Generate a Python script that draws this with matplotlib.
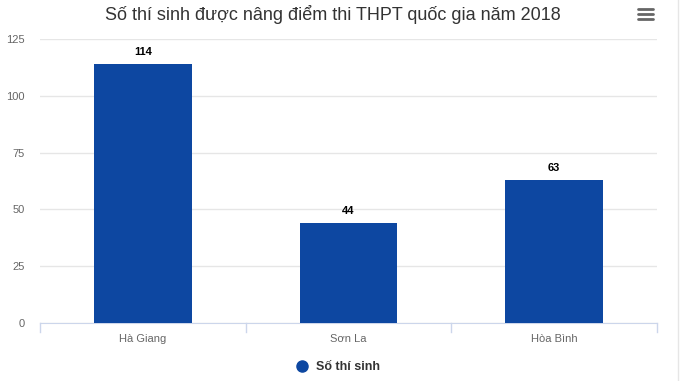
import matplotlib.pyplot as plt
from matplotlib.lines import Line2D

categories = ["Hà Giang", "Sơn La", "Hòa Bình"]
values = [114, 44, 63]
yticks = [0, 25, 50, 75, 100, 125]

plt.rcParams["font.family"] = ["Liberation Sans", "DejaVu Sans"]

fig = plt.figure(figsize=(6.85, 3.81), dpi=100)
ax = fig.add_axes([40 / 685, 1 - 323 / 381, 617 / 685, 284 / 381])

x = list(range(len(categories)))
bars = ax.bar(x, values, width=0.475, color="#0d47a1", zorder=3)
for b, v in zip(bars, values):
    ax.text(b.get_x() + b.get_width() / 2, v + 3, str(v), ha="center", va="bottom",
            fontsize=8, fontweight="bold", color="#000000", zorder=4)

ax.set_xlim(-0.5, len(categories) - 0.5)
ax.set_ylim(0, 125)
ax.set_yticks(yticks)
ax.grid(axis="y", color="#e6e6e6", linewidth=1, zorder=0)
ax.tick_params(axis="y", length=0, labelsize=8, labelcolor="#666666", pad=11)
ax.set_xticks(x)
ax.set_xticklabels(categories)
ax.tick_params(axis="x", length=0, labelsize=8, labelcolor="#666666", pad=8)
for s in ["top", "right", "left"]:
    ax.spines[s].set_visible(False)
ax.spines["bottom"].set_color("#ccd6eb")

# category boundary ticks
for bx in [-0.5, 0.5, 1.5, 2.5]:
    ax.plot([bx, bx], [0, -4], color="#ccd6eb", linewidth=1, clip_on=False, zorder=2)

fig.text(333 / 685, 1 - 14 / 381, "Số thí sinh được nâng điểm thi THPT quốc gia năm 2018",
         ha="center", va="center", fontsize=13, color="#333333")

# legend
handle = Line2D([], [], marker="o", linestyle="none", markersize=8, color="#0d47a1")
leg = fig.legend([handle], ["Số thí sinh"], loc="center", bbox_to_anchor=(335 / 685, 1 - 367 / 381),
                 frameon=False, handletextpad=0.1, prop={"size": 9, "weight": "bold"})
for t in leg.get_texts():
    t.set_color("#333333")

# menu icon
for yy in [9, 14, 19]:
    fig.add_artist(Line2D([638 / 685, 653 / 685], [1 - yy / 381] * 2, color="#666666",
                          linewidth=2, solid_capstyle="round"))
fig.add_artist(Line2D([678 / 685] * 2, [0, 1], color="#e6e6e6", linewidth=1))

fig.savefig("out.png", dpi=100)
